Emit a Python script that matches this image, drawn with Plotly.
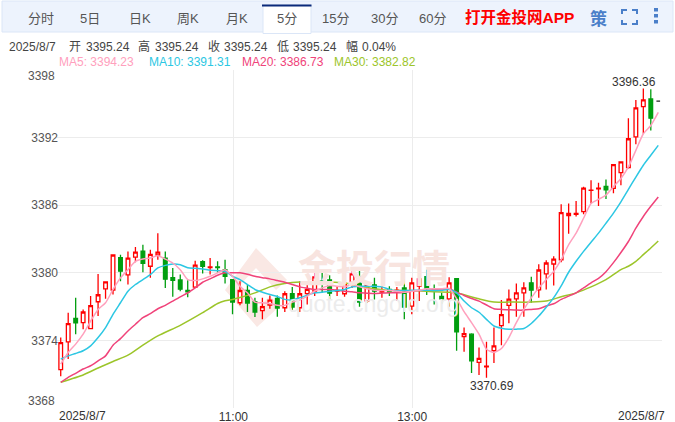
import plotly.graph_objects as go

# ---------- data ----------
OPEN = [3371.40,3373.87,3375.96,3375.58,3375.05,3377.43,3378.58,3378.46,3381.34,3379.81,
        3381.40,3381.93,3380.58,3381.58,3381.31,3379.58,3379.37,3378.43,3378.72,3380.99,
        3380.47,3380.52,3380.28,3379.40,3377.34,3378.43,3377.43,3376.64,3377.14,3377.72,
        3376.90,3378.16,3376.90,3378.16,3378.37,3379.25,3379.37,3378.37,3378.14,3379.16,
        3379.66,3377.52,3378.92,3378.28,3378.52,3378.40,3378.66,3377.05,3378.81,3379.66,
        3378.55,3377.90,3377.69,3379.49,3374.34,3374.55,3372.05,3371.66,3373.10,3375.31,
        3377.11,3377.69,3378.22,3379.11,3378.49,3379.90,3380.78,3381.16,3385.08,3385.19,
        3385.43,3387.31,3387.46,3387.66,3387.49,3388.90,3389.34,3392.07,3394.75,3395.43,
        3395.24]
HIGH = [3374.25,3376.46,3377.78,3376.75,3377.93,3379.90,3379.19,3381.58,3381.61,3381.90,
        3382.28,3382.49,3382.05,3383.52,3381.90,3380.43,3379.84,3379.34,3381.08,3381.11,
        3381.31,3381.02,3381.16,3379.40,3379.25,3378.96,3377.78,3377.78,3377.99,3377.99,
        3378.37,3378.75,3379.25,3379.25,3380.14,3380.08,3379.78,3378.81,3379.19,3380.52,
        3380.43,3378.96,3379.55,3378.81,3378.81,3378.75,3379.40,3379.55,3380.58,3380.28,
        3378.96,3378.22,3379.61,3379.49,3375.14,3374.64,3373.37,3373.87,3375.14,3377.58,
        3378.52,3379.05,3379.16,3379.64,3380.75,3381.11,3381.46,3386.08,3386.16,3386.37,
        3387.64,3388.22,3387.99,3388.28,3389.61,3389.84,3393.72,3395.34,3396.36,3396.30,
        3395.24]
LOW = [3370.81,3372.34,3374.55,3374.99,3374.99,3376.16,3377.69,3378.08,3379.25,3378.96,
       3380.93,3380.05,3379.55,3381.16,3378.66,3377.87,3378.37,3377.84,3378.66,3379.93,
       3379.84,3379.99,3379.05,3376.31,3377.11,3376.52,3376.08,3375.87,3376.81,3376.11,
       3376.52,3376.58,3376.52,3377.19,3377.93,3378.22,3377.58,3377.93,3377.87,3378.66,
       3376.99,3377.34,3377.64,3377.78,3377.93,3377.49,3375.87,3376.31,3377.49,3378.02,
       3377.19,3377.28,3376.99,3373.08,3372.99,3371.11,3370.93,3370.69,3371.99,3373.58,
       3375.52,3376.11,3376.11,3377.34,3377.78,3378.52,3378.87,3380.93,3383.46,3384.99,
       3385.19,3386.16,3385.93,3386.55,3387.05,3387.78,3389.25,3391.40,3392.34,3392.63,
       3395.24]
CLOSE = [3373.81,3375.49,3375.55,3376.52,3377.08,3378.05,3379.19,3381.58,3380.14,3381.31,
         3381.84,3380.84,3381.64,3381.84,3379.43,3379.34,3378.55,3378.31,3380.69,3380.58,
         3380.52,3380.47,3379.69,3377.40,3378.43,3377.31,3376.52,3376.99,3377.58,3376.87,
         3378.14,3376.96,3378.14,3378.52,3379.64,3379.05,3378.19,3378.43,3379.05,3379.90,
         3377.40,3378.90,3378.37,3378.43,3378.28,3378.46,3376.96,3379.11,3379.46,3378.64,
         3378.49,3377.69,3379.11,3374.75,3374.61,3372.19,3372.40,3371.72,3373.52,3376.28,
         3377.66,3378.22,3378.66,3378.46,3380.25,3380.87,3381.22,3385.34,3385.28,3385.28,
         3387.52,3387.34,3387.52,3387.37,3389.61,3389.84,3391.90,3394.63,3395.34,3393.72,
         3395.24]

MA5 = [3371.90,3372.93,3373.67,3374.55,3375.72,3376.75,3377.34,3378.52,3379.55,3380.28,
       3381.02,3381.22,3381.31,3381.52,3381.22,3380.87,3380.28,3379.40,3379.31,3379.46,
       3379.69,3379.99,3380.28,3379.69,3378.80,3378.22,3377.40,3377.34,3377.28,3377.11,
       3377.11,3377.40,3377.58,3377.93,3378.37,3378.66,3378.87,3378.81,3378.75,3378.96,
       3378.75,3378.58,3378.46,3378.43,3378.43,3378.37,3378.28,3378.37,3378.46,3378.58,
       3378.58,3378.58,3378.61,3377.70,3376.55,3375.58,3374.55,3373.22,3372.93,3373.28,
       3374.25,3375.58,3376.75,3377.78,3378.66,3379.40,3380.13,3381.16,3382.49,3383.52,
       3384.84,3386.16,3386.52,3386.90,3387.64,3388.37,3389.40,3390.87,3392.34,3393.07,
       3394.23]
MA10 = [3372.34,3372.63,3372.84,3373.08,3373.52,3374.25,3375.14,3376.31,3377.34,3378.37,
        3378.96,3379.40,3379.84,3380.43,3380.66,3380.78,3380.72,3380.45,3380.40,3380.34,
        3380.22,3380.19,3380.14,3379.69,3379.40,3378.96,3378.52,3378.28,3378.08,3377.90,
        3377.64,3377.60,3377.78,3378.02,3378.22,3378.28,3378.37,3378.42,3378.52,3378.75,
        3378.81,3378.81,3378.81,3378.75,3378.52,3378.40,3378.43,3378.46,3378.46,3378.46,
        3378.43,3378.46,3378.52,3378.22,3377.49,3376.90,3376.50,3375.87,3375.28,3375.08,
        3374.99,3375.00,3375.05,3375.50,3376.16,3376.95,3377.80,3378.85,3380.05,3381.02,
        3381.90,3382.72,3383.52,3384.40,3385.30,3386.30,3387.40,3388.50,3389.55,3390.43,
        3391.31]
MA20 = [3370.28,3370.72,3371.08,3371.46,3371.75,3372.19,3372.63,3373.58,3374.16,3374.84,
        3375.43,3376.02,3376.37,3376.81,3377.11,3377.49,3377.87,3378.22,3378.66,3379.16,
        3379.46,3379.78,3380.00,3380.00,3380.00,3379.87,3379.69,3379.57,3379.46,3379.31,
        3379.16,3378.96,3378.75,3378.63,3378.52,3378.52,3378.52,3378.46,3378.37,3378.31,
        3378.22,3378.19,3378.16,3378.19,3378.22,3378.22,3378.28,3378.37,3378.43,3378.46,
        3378.49,3378.52,3378.58,3378.28,3377.99,3377.72,3377.49,3377.14,3376.81,3376.75,
        3376.72,3376.69,3376.69,3376.75,3376.81,3377.05,3377.25,3377.64,3377.93,3378.22,
        3378.66,3379.11,3379.50,3380.10,3380.90,3381.80,3382.78,3383.96,3385.00,3385.90,
        3386.73]
MA30_IDX = [0,3,5,7,9,11,13,16,19,21,22,23,24,26,28,30,32,34,36,38,40,42,44,46,48,50,52,
            53,54,56,58,60,63,65,67,69,71,73,75,76,77,78,79,80]
MA30 = [3370.28,3370.93,3371.55,3372.13,3372.69,3373.58,3374.40,3375.34,3376.46,3377.28,
        3377.52,3377.63,3377.80,3378.22,3378.75,3379.05,3379.19,3379.19,3379.19,3379.11,
        3378.81,3378.58,3378.43,3378.43,3378.40,3378.31,3378.28,3378.22,3378.05,3377.69,
        3377.40,3377.40,3377.40,3377.49,3377.87,3378.22,3378.75,3379.40,3380.28,3380.58,
        3381.02,3381.61,3382.20,3382.82]
X_IDX = list(range(len(OPEN)))
Y_TICKS = [3368,3374,3380,3386,3392,3398]
TABS = ["分时","5日","日K","周K","月K","5分","15分","30分","60分"]

W, H = 675, 422
FONT = "Liberation Sans, Noto Sans CJK SC, sans-serif"
CJK = "Noto Sans CJK SC, sans-serif"
GRID = "#ececec"
L, R, T, B = 57, 662, 70, 408

def fx(p): return p / W
def fy(p): return 1 - p / H

fig = go.Figure()
last = len(OPEN) - 1
fig.add_trace(go.Candlestick(
    x=X_IDX[:last], open=OPEN[:last], high=HIGH[:last], low=LOW[:last], close=CLOSE[:last],
    increasing=dict(line=dict(color="#ff0000", width=1.3), fillcolor="#ffffff"),
    decreasing=dict(line=dict(color="#009e0f", width=1.3), fillcolor="#009e0f"),
    whiskerwidth=0, hoverinfo="skip", showlegend=False))
fig.add_trace(go.Candlestick(
    x=X_IDX[last:], open=OPEN[last:], high=HIGH[last:], low=LOW[last:], close=CLOSE[last:],
    increasing=dict(line=dict(color="#222222", width=1.3), fillcolor="#222222"),
    decreasing=dict(line=dict(color="#222222", width=1.3), fillcolor="#222222"),
    whiskerwidth=0, hoverinfo="skip", showlegend=False))
for name, xs, ys, col in [("MA30", MA30_IDX, MA30, "#9cc52a"), ("MA20", X_IDX, MA20, "#f0437a"),
                          ("MA10", X_IDX, MA10, "#2cc7e3"), ("MA5", X_IDX, MA5, "#ffa0bd")]:
    fig.add_trace(go.Scatter(x=xs, y=ys, mode="lines", name=name, hoverinfo="skip", showlegend=False,
                             line=dict(color=col, width=1.5, shape="spline", smoothing=0.6)))

shapes = []
def rect(x0, y0, x1, y1, fill, line=None, layer="below"):
    shapes.append(dict(type="rect", xref="paper", yref="paper", x0=fx(x0), x1=fx(x1), y0=fy(y1), y1=fy(y0),
                       fillcolor=fill, line=dict(width=0 if line is None else 1, color=line or fill), layer=layer))
def poly(pts, fill, layer="below"):
    d = "M " + " L ".join(f"{fx(a):.5f} {fy(b):.5f}" for a, b in pts) + " Z"
    shapes.append(dict(type="path", xref="paper", yref="paper", path=d, fillcolor=fill, line=dict(width=0), layer=layer))
def stroke(pts, color, width=2):
    d = "M " + " L ".join(f"{fx(a):.5f} {fy(b):.5f}" for a, b in pts)
    shapes.append(dict(type="path", xref="paper", yref="paper", path=d, line=dict(color=color, width=width), layer="above"))

# tab bar
rect(2, 1, 673, 32, "#edf3fd", "#dbe6f7")
rect(263, 5, 311, 33.5, "#ffffff", "#dbe6f7")
rect(262, 4.5, 311.5, 6.5, "#0b2a7a")
# toolbar icons
IC = "#4b7fc9"
stroke([(622, 14), (622, 10), (627, 10)], IC)
stroke([(632, 10), (637, 10), (637, 14)], IC)
stroke([(622, 20), (622, 24), (627, 24)], IC)
stroke([(632, 24), (637, 24), (637, 20)], IC)
for yy in (8, 14, 20):
    rect(654, yy, 658, yy + 3.5, IC, layer="above")

# watermark logo
poly([(256, 248), (287, 280), (276, 290), (256, 268), (240, 285), (258, 308), (270, 296), (280, 306), (257, 327), (225, 290)], "#fae8e4")

anns = []
def text(x, y, s, size=12, color="#333333", anchor="left", font=FONT):
    anns.append(dict(xref="paper", yref="paper", x=fx(x), y=fy(y), text=s, showarrow=False, xanchor=anchor,
                     yanchor="middle", font=dict(family=font, size=size, color=color), align=anchor))

# tabs
for s, cx in zip(TABS, [41, 90, 140, 188, 237, 287, 335, 384, 432]):
    text(cx, 19, s, 13, "#555555", "center")
text(463, 17.5, "<b>打开金投网APP</b>", 15.5, "#ff0000")
text(598, 17.5, "<b>策</b>", 17, IC, "center", CJK)

# info lines
INFO = [(7, "2025/8/7"), (67, "开"), (84, "3395.24"), (136, "高"), (153, "3395.24"), (206, "收"), (222, "3395.24"),
        (275, "低"), (291, "3395.24"), (344, "幅"), (360, "0.04%")]
for x, s in INFO:
    text(x, 47, s, 12, "#444444")
text(57, 62, "MA5: 3394.23", 12, "#ffa0bd")
text(147, 62, "MA10: 3391.31", 12, "#2cc7e3")
text(240, 62, "MA20: 3386.73", 12, "#f0437a")
text(332, 62, "MA30: 3382.82", 12, "#9cc52a")

# y labels at top and bottom sit inside the plot band
text(57, 76, "3398", 12, "#555555", "right")
text(57, 401, "3368", 12, "#555555", "right")

# x labels at the ends
text(57, 416, "2025/8/7", 12, "#333333", "left")
text(667, 416, "2025/8/7", 12, "#333333", "right")

# watermark text
text(374, 265, "<b>金投行情</b>", 38, "#f8e4df", "center", CJK)
text(373, 304, "quote.cngold.org", 23, "#ececec", "center", FONT)

# extremes
anns.append(dict(x=76.8, y=3396.36, xref="x", yref="y", text="3396.36", showarrow=False, yshift=6, xanchor="center", yanchor="middle",
                 font=dict(family=FONT, size=12, color="#333333")))
anns.append(dict(x=57.7, y=3370.69, xref="x", yref="y", text="3370.69", showarrow=False, yshift=-8, xanchor="center", yanchor="middle",
                 font=dict(family=FONT, size=12, color="#333333")))

fig.update_layout(
    width=W, height=H, margin=dict(l=0, r=0, t=0, b=0), paper_bgcolor="#ffffff", plot_bgcolor="rgba(0,0,0,0)",
    shapes=shapes, annotations=anns, boxgap=0.3, showlegend=False,
    font=dict(family=FONT, size=12, color="#333333"),
    xaxis=dict(domain=[fx(L), fx(R)], range=[-0.5, 80.5], rangeslider=dict(visible=False), tickmode="array",
               tickvals=[23.12, 47.05], ticktext=["11:00", "13:00"], ticks="", showgrid=True, gridcolor=GRID, gridwidth=1,
               zeroline=False, showline=False, tickfont=dict(size=12, color="#333333"), automargin=False),
    yaxis=dict(domain=[fy(B), fy(T)], range=[Y_TICKS[0], Y_TICKS[-1]], tickmode="array", tickvals=Y_TICKS,
               ticktext=["" if v in (Y_TICKS[0], Y_TICKS[-1]) else str(v) for v in Y_TICKS], ticks="", showgrid=True,
               gridcolor=GRID, gridwidth=1, zeroline=False, showline=False, tickfont=dict(size=12, color="#555555"),
               ticklabelstandoff=-2, automargin=False),
)
fig.write_html("out.html", config=dict(displayModeBar=False),
               post_script="document.body.style.margin='0';document.documentElement.style.overflow='hidden';")
